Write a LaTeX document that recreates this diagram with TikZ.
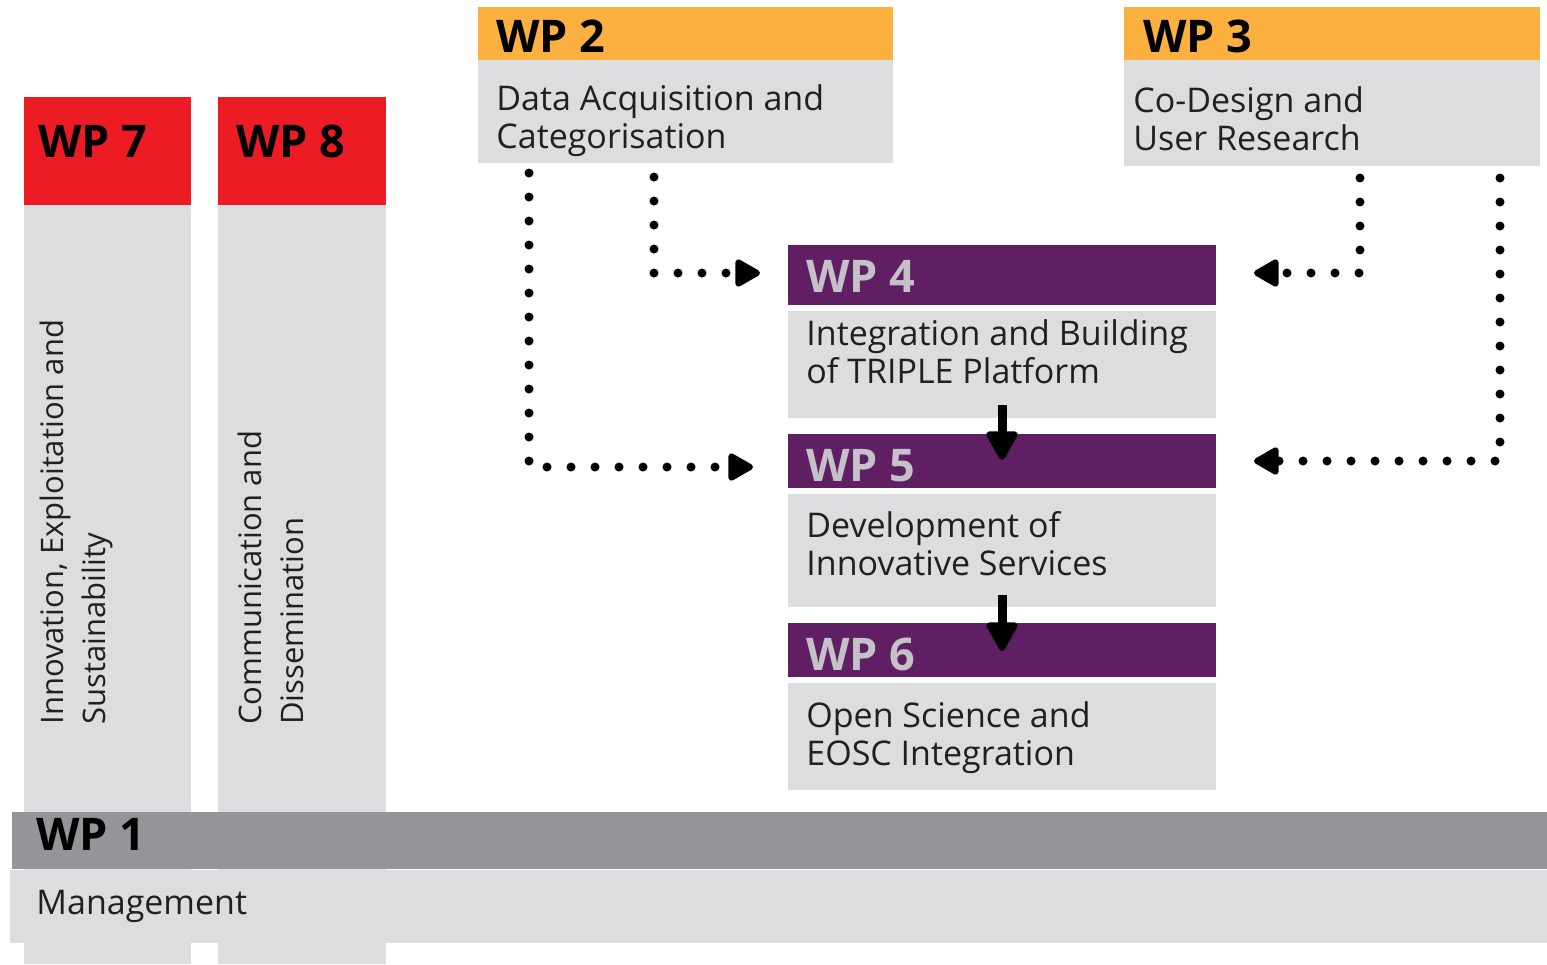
\documentclass[tikz,border=0pt]{standalone}
\usepackage{fontspec}
\setmainfont{Open Sans}
\usetikzlibrary{arrows.meta,fit,calc}
\definecolor{wpred}{HTML}{ED1C24}
\definecolor{wporange}{HTML}{FBB040}
\definecolor{wppurple}{HTML}{611F63}
\definecolor{wplight}{HTML}{DCDDDE}
\definecolor{wpdark}{HTML}{939598}
\definecolor{wptext}{HTML}{231F20}
\definecolor{wphdlight}{HTML}{C4C2C8}
\begin{document}
\begin{tikzpicture}[x=0.5pt,y=-0.5pt,
  boxfill/.style={inner sep=0pt, outer sep=0pt, draw=none},
  hd/.style={inner sep=0pt, anchor=base west, font=\fontsize{22.5}{26}\selectfont\bfseries},
  body/.style={inner sep=0pt, anchor=base west, align=left, text=wptext, font=\fontsize{17}{19}\selectfont},
  vbody/.style={inner sep=0pt, anchor=base west, align=left, rotate=90, text=wptext, font=\fontsize{15.5}{21}\selectfont},
  dotarrow/.style={line width=4.5pt, line cap=round, dash pattern=on 0pt off 12pt,
     -{Triangle[length=14pt,width=15pt,round,line width=3pt]}},
  solidarrow/.style={line width=4.5pt, -{Triangle[length=16pt,width=17pt,round,line width=3pt]}}
]
\useasboundingbox (0,0) rectangle (1547,964);

% WP7 and WP8 columns
\node[boxfill, fill=wplight, fit={(24,205)(191,964)}] (wp7b) {};
\node[boxfill, fill=wpred, fit={(24,97)(191,205)}] (wp7h) {};
\node[boxfill, fill=wplight, fit={(218,205)(386,964)}] (wp8b) {};
\node[boxfill, fill=wpred, fit={(218,97)(386,205)}] (wp8h) {};
\node[hd] (t7) at ($(wp7h.north west)+(14,60)$) {WP 7};
\node[hd] (t8) at ($(wp8h.north west)+(18,60)$) {WP 8};
\node[vbody] (d7) at (105,725) {Innovation, Exploitation and\\Sustainability};
\node[vbody] (d8) at (303,725) {Communication and\\Dissemination};

% WP1
\node[boxfill, fill=wpdark, fit={(12,812)(1547,869)}] (wp1h) {};
\node[boxfill, fill=wplight, fit={(10,870)(1547,943)}] (wp1b) {};
\node[hd] (t1) at ($(wp1h.north west)+(24,38)$) {WP 1};
\node[body] (d1) at ($(wp1b.north west)+(26,44)$) {Management};

% WP2
\node[boxfill, fill=wporange, fit={(478,7)(893,60)}] (wp2h) {};
\node[boxfill, fill=wplight, fit={(478,60)(893,163)}] (wp2b) {};
\node[hd] (t2) at ($(wp2h.north west)+(18,45)$) {WP 2};
\node[body] (d2) at ($(wp2b.north west)+(18,88)$) {Data Acquisition and\\Categorisation};

% WP3
\node[boxfill, fill=wporange, fit={(1124,7)(1540,60)}] (wp3h) {};
\node[boxfill, fill=wplight, fit={(1124,60)(1540,166)}] (wp3b) {};
\node[hd] (t3) at ($(wp3h.north west)+(19,45)$) {WP 3};
\node[body] (d3) at ($(wp3b.north west)+(9,90)$) {Co-Design and\\User Research};

% WP4
\node[boxfill, fill=wppurple, fit={(788,245)(1216,305)}] (wp4h) {};
\node[boxfill, fill=wplight, fit={(788,311)(1216,418)}] (wp4b) {};
\node[hd, text=wphdlight] (t4) at ($(wp4h.north west)+(18,47)$) {WP 4};
\node[body] (d4) at ($(wp4b.north west)+(18,72)$) {Integration and Building\\of TRIPLE Platform};

% WP5
\node[boxfill, fill=wppurple, fit={(788,434)(1216,488)}] (wp5h) {};
\node[boxfill, fill=wplight, fit={(788,494)(1216,607)}] (wp5b) {};
\node[hd, text=wphdlight] (t5) at ($(wp5h.north west)+(18,47)$) {WP 5};
\node[body] (d5) at ($(wp5b.north west)+(18,81)$) {Development of\\Innovative Services};

% WP6
\node[boxfill, fill=wppurple, fit={(788,623)(1216,677)}] (wp6h) {};
\node[boxfill, fill=wplight, fit={(788,683)(1216,790)}] (wp6b) {};
\node[hd, text=wphdlight] (t6) at ($(wp6h.north west)+(18,47)$) {WP 6};
\node[body] (d6) at ($(wp6b.north west)+(18,82)$) {Open Science and\\EOSC Integration};

% connector start points
\coordinate (s1) at ($(wp2b.south west)+(176,14)$);
\coordinate (s2) at ($(wp2b.south west)+(51,10)$);
\coordinate (s3) at ($(wp3b.south west)+(236,12)$);
\coordinate (s4) at ($(wp3b.south west)+(376,12)$);
\coordinate (e1) at ($(wp4h.west)+(-28,-2)$);
\coordinate (e2) at ($(wp5h.west)+(-35,6)$);
\coordinate (e3) at ($(wp4h.east)+(38,-2)$);
\coordinate (e4) at ($(wp5h.east)+(38,0)$);

\draw[dotarrow] (s1) |- (e1);
\draw[dotarrow] (s2) |- (e2);
\draw[dotarrow] (s3) |- (e3);
\draw[dotarrow] (s4) |- (e4);

\draw[solidarrow] ($(wp4b.south)+(0,-13)$) -- ($(wp5h.north)+(0,26)$);
\draw[solidarrow] ($(wp5b.south)+(0,-12)$) -- ($(wp6h.north)+(0,28)$);
\end{tikzpicture}
\end{document}
